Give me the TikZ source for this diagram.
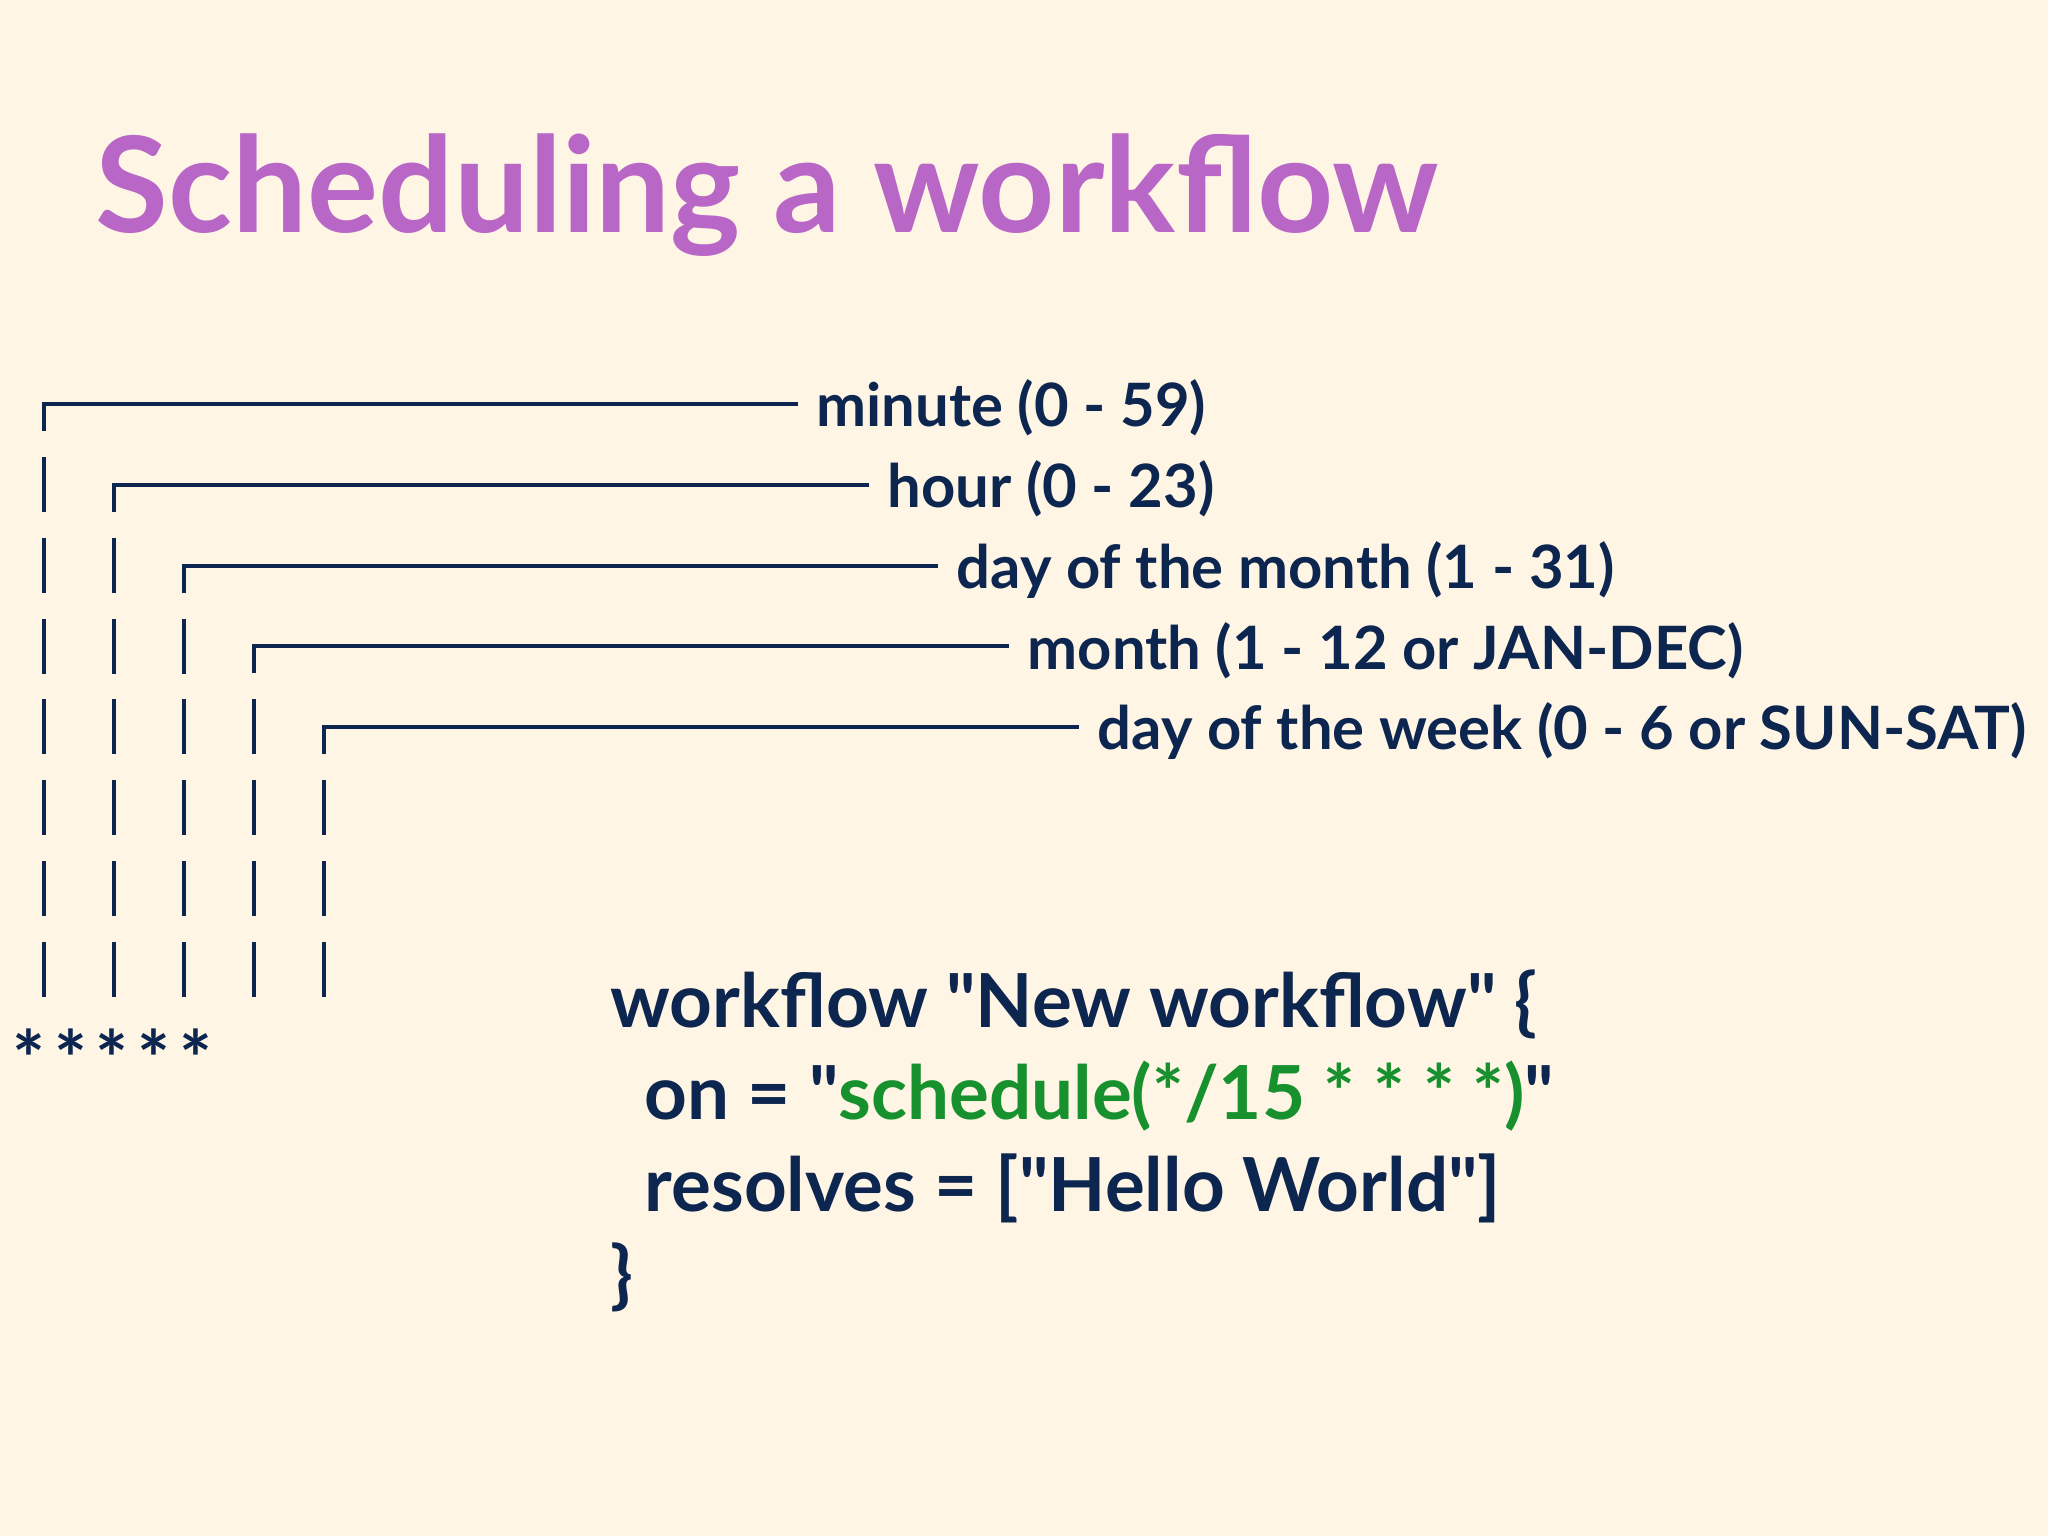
\documentclass[tikz,border=0pt]{standalone}
\usepackage{fontspec}
\setmainfont{Lato}[Ligatures=TeXOff]
\definecolor{bgc}{HTML}{FEF5E5}
\definecolor{navy}{HTML}{0D2650}
\definecolor{codegreen}{HTML}{17902E}
\definecolor{titlepurple}{HTML}{B867C6}
\tikzset{
  conn/.style={draw=navy, line width=1.1pt, line join=miter},
  lbl/.style={anchor=base west, inner sep=0pt, text=navy, font=\fontsize{17}{19}\selectfont\bfseries},
  code/.style={anchor=base west, inner sep=0pt, text=navy, font=\fontsize{21.2}{24}\selectfont\bfseries},
  star/.style={inner sep=0pt, text=navy, font=\fontsize{22}{26}\selectfont\bfseries},
  titlestyle/.style={anchor=base west, inner sep=0pt, text=titlepurple, font=\fontsize{37.8}{42}\selectfont\bfseries}
}
\begin{document}
\begin{tikzpicture}[x=0.01cm,y=-0.01cm]
\fill[bgc] (0,0) rectangle (2048,1536);
\useasboundingbox (0,0) rectangle (2048,1536);

\node[titlestyle] (title) at (95,232) {Scheduling a workflow};

% labels
\node[lbl] (lab0) at (816,426) {minute (0 - 59)};
\node[lbl] (lab1) at (887,507) {hour (0 - 23)};
\node[lbl] (lab2) at (956,588) {day of the month (1 - 31)};
\node[lbl] (lab3) at (1027,669) {month (1 - 12 or JAN-DEC)};
\node[lbl] (lab4) at (1097,749) {day of the week (0 - 6 or SUN-SAT)};

% corners
\foreach \j in {0,...,4}{
  \coordinate (t\j) at ({44+70*\j},{404+80.8*\j});
  \coordinate (b\j) at ({44+70*\j},{431+80.8*\j});
}
\foreach \j in {0,...,4}{
  \draw[conn] (b\j) -- (t\j) -- ([xshift=-0.18cm]t\j -| lab\j.west);
}

% dashes
\foreach \j in {0,...,4}{
  \foreach \k in {\j,...,6}{
    \draw[conn] ({44+70*\j},{457+80.8*\k}) -- ++(0,55);
  }
}

% asterisks
\node[star] (s0) at (29,1058) {*};
\node[star] (s1) at (71,1058) {*};
\node[star] (s2) at (112,1058) {*};
\node[star] (s3) at (154,1058) {*};
\node[star] (s4) at (196,1058) {*};

% code
\node[code] (c1) at (610,1027) {workflow "New workflow" \{};
\node[code] (c2) at (644,1119) {on = "\textcolor{codegreen}{schedule(*/15 * * * *)}"};
\node[code] (c3) at (644,1211) {resolves = ["Hello World"]};
\node[code] (c4) at (610,1300) {\}};
\end{tikzpicture}
\end{document}
